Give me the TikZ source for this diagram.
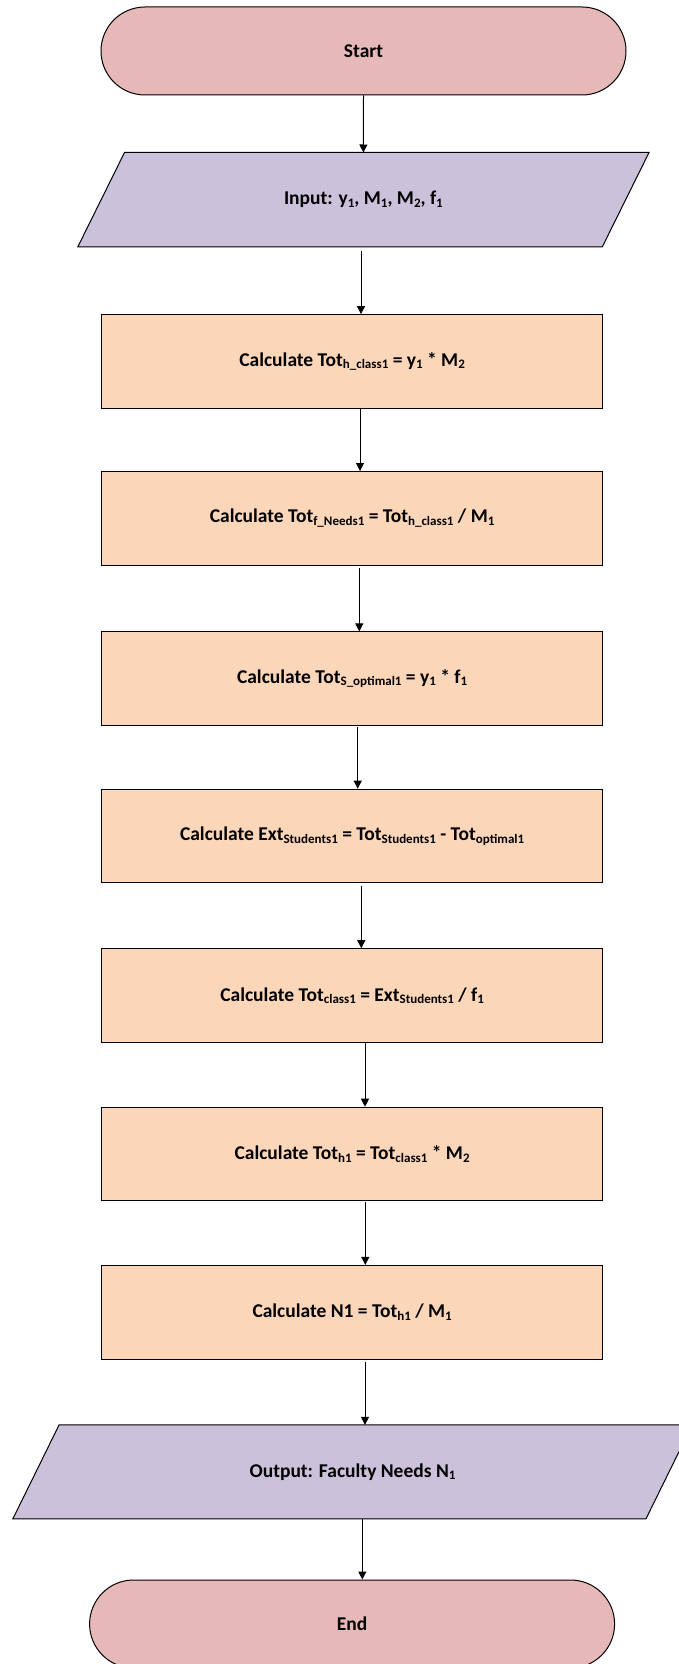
\documentclass[tikz,border=0pt]{standalone}
\usepackage{fontspec}
\setmainfont{Carlito}
\usetikzlibrary{calc,arrows.meta}
\definecolor{termfill}{HTML}{E6B8B7}
\definecolor{iofill}{HTML}{CCC1DA}
\definecolor{procfill}{HTML}{FCD6B8}
\pgfdeclarelayer{bg}
\pgfsetlayers{bg,main}
\newcommand{\sbs}[1]{\raisebox{-2.5pt}{\fontsize{13}{13}\selectfont #1}}
\begin{document}
\begin{tikzpicture}[x=1pt,y=-1pt,
  lbl/.style={font=\fontsize{19.5}{22}\selectfont\bfseries, text=black},
  term/.style={lbl, draw=black, line width=1pt, fill=termfill, rounded corners=44pt, minimum width=525pt, minimum height=88pt, inner sep=0pt},
  proc/.style={lbl, draw=black, line width=1pt, fill=procfill, minimum width=501pt, minimum height=93.6pt, inner sep=0pt},
  iobox/.style={lbl, minimum height=94pt, inner sep=0pt},
  ioshape/.style={draw=black, line width=1pt, fill=iofill},
  arr/.style={draw=black, line width=1pt, -{Triangle[length=8pt,width=8pt]}}]
\useasboundingbox (0,0) rectangle (679,1664);

\node[term] (start) at (363.5,51) {Start};
\node[iobox, minimum width=570.8pt] (in) at (363.4,199.7) {Input: y\sbs{1}, M\sbs{1}, M\sbs{2}, f\sbs{1}};
\node[proc] (b1) at (352.1,361.4) {Calculate Tot\sbs{h\_class1} = y\sbs{1} * M\sbs{2}};
\node[proc] (b2) at (352.1,518.3) {Calculate Tot\sbs{f\_Needs1} = Tot\sbs{h\_class1} / M\sbs{1}};
\node[proc] (b3) at (352.1,678.7) {Calculate Tot\sbs{S\_optimal1} = y\sbs{1} * f\sbs{1}};
\node[proc] (b4) at (352.1,836) {Calculate Ext\sbs{Students1} = Tot\sbs{Students1} - Tot\sbs{optimal1}};
\node[proc] (b5) at (352.1,995.5) {Calculate Tot\sbs{class1} = Ext\sbs{Students1} / f\sbs{1}};
\node[proc] (b6) at (352.1,1154) {Calculate Tot\sbs{h1} = Tot\sbs{class1} * M\sbs{2}};
\node[proc] (b7) at (352.1,1312.2) {Calculate N1 = Tot\sbs{h1} / M\sbs{1}};
\node[iobox, minimum width=679pt, minimum height=93.7pt] (out) at (352.5,1471.9) {Output: Faculty Needs N\sbs{1}};
\node[term] (end) at (352.1,1624) {End};

\begin{pgfonlayer}{bg}
\draw[ioshape] ($(in.north west)+(46.7,0)$) -- (in.north east) -- ($(in.south east)-(46.7,0)$) -- (in.south west) -- cycle;
\draw[ioshape] ($(out.north west)+(46.3,0)$) -- (out.north east) -- ($(out.south east)-(46.3,0)$) -- (out.south west) -- cycle;
\end{pgfonlayer}

\draw[arr] (start.south) -- (in.north);
\draw[arr] ($(in.south)+(-2.4,4.3)$) -- ($(b1.north)+(8.9,0)$);
\draw[arr] ($(b1.south)+(7.9,0)$) -- ($(b2.north)+(7.9,0)$);
\draw[arr] ($(b2.south)+(7.2,2)$) -- ($(b3.north)+(7.2,0)$);
\draw[arr] ($(b3.south)+(5.6,1.4)$) -- ($(b4.north)+(5.6,0)$);
\draw[arr] ($(b4.south)+(9.2,2.3)$) -- ($(b5.north)+(9.2,0)$);
\draw[arr] ($(b5.south)+(12.9,0.5)$) -- ($(b6.north)+(12.9,0)$);
\draw[arr] ($(b6.south)+(13.2,0.5)$) -- ($(b7.north)+(13.2,0)$);
\draw[arr] ($(b7.south)+(12.9,2.7)$) -- ($(out.north)+(12.5,0)$);
\draw[arr] ($(out.south)+(9.8,0)$) -- ($(end.north)+(10.2,0)$);
\end{tikzpicture}
\end{document}
